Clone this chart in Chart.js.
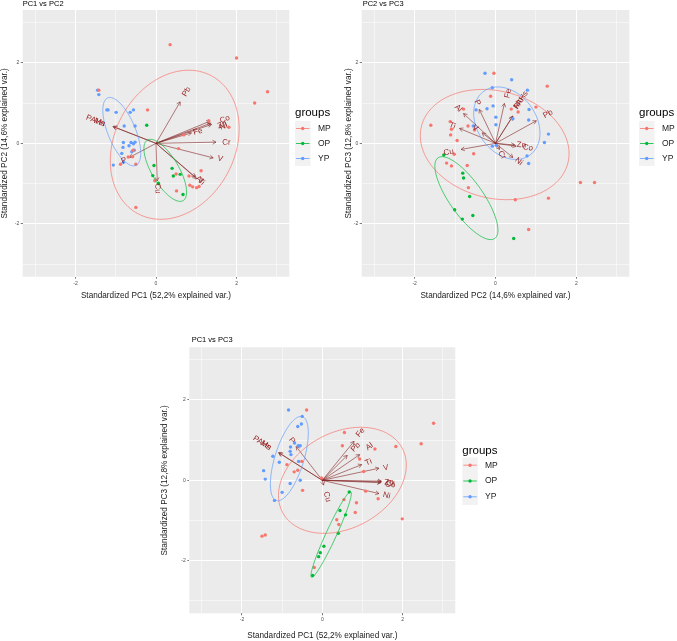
<!DOCTYPE html>
<html>
<head>
<meta charset="utf-8">
<script src="https://cdn.jsdelivr.net/npm/chart.js@4.4.1/dist/chart.umd.min.js"></script>
<style>
  html, body { margin:0; padding:0; background:#ffffff; }
  body { width:677px; height:641px; position:relative; overflow:hidden; }
  canvas { position:absolute; display:block; }
</style>
</head>
<body>
<canvas id="cA" width="340" height="310" style="left:0px;top:0px;width:340px;height:310px"></canvas>
<canvas id="cB" width="337" height="310" style="left:340px;top:0px;width:337px;height:310px"></canvas>
<canvas id="cC" width="360" height="336" style="left:160px;top:305px;width:360px;height:336px"></canvas>
<script>
// ---------------- shared categories / ticks ----------------
const groups = ['MP', 'OP', 'YP'];
const groupColors = ['#F8766D', '#00BA38', '#619CFF'];
const gridValues = [-3, -2, -1, 0, 1, 2, 3];
const gridLabels = ['', '-2', '', '0', '', '2', ''];
const varNames = ['PAHs', 'Mn', 'P', 'Pb', 'Fe', 'Co', 'Zn', 'Ni', 'Cr', 'V', 'Al', 'Ti', 'Cu'];

// ---------------- PC1 vs PC2 ----------------
const pc12_MP = [[0.35,2.45],[2.0,2.12],[2.77,1.28],[2.45,1.0],[-1.42,1.32],[-0.21,0.83],[1.31,0.56],[1.81,0.4],
  [0.69,0.21],[0.56,-0.13],[-0.57,-0.17],[-0.58,-0.33],[-0.69,-0.34],[-0.88,-0.52],[-0.5,-0.52],[-0.03,-0.93],
  [0.51,-1.18],[0.82,-0.81],[1.12,-0.68],[0.84,-1.04],[0.91,-1.08],[1.01,-1.1],[1.07,-1.07],[-0.5,-1.59],[0.5,-0.76]];
const pc12_OP = [[-0.23,0.45],[-0.05,-0.55],[-0.08,-0.8],[0.06,-0.99],[0.4,-0.62],[0.43,-0.81],[0.6,-0.77],[0.67,-1.27]];
const pc12_YP = [[-1.45,1.32],[-1.42,1.21],[-1.22,0.83],[-1.19,0.83],[-0.99,0.77],[-0.64,0.77],[-0.56,0.83],[-0.79,0.43],
  [-0.52,0.43],[-0.81,0.02],[-0.67,-0.06],[-0.62,0.02],[-0.56,-0.01],[-0.52,0.03],[-0.82,-0.1],[-0.6,-0.21],
  [-0.85,-0.25],[-0.81,-0.47],[-1.06,-0.54],[-0.54,-0.17]];
const pc12_tipX = [-1.07,-1.05,-0.66,0.6,0.88,1.34,1.36,1.38,1.49,1.42,0.97,1.0,0.03];
const pc12_tipY = [0.42,0.41,-0.35,1.03,0.26,0.55,0.5,0.47,0.03,-0.36,-0.83,-0.87,-0.93];
const pc12_labX = [-1.5,-1.4,-0.79,0.76,1.04,1.71,1.64,1.68,1.75,1.59,1.08,1.12,0.04];
const pc12_labY = [0.56,0.52,-0.43,1.28,0.29,0.6,0.46,0.42,0.02,-0.38,-0.9,-0.95,-1.12];
const pc12_ellCX = [0.465, 0.23, -0.85];
const pc12_ellCY = [-0.035, -0.67, 0.29];
const pc12_ellA = [1.94, 0.873, 0.908];
const pc12_ellB = [1.49, 0.335, 0.343];
const pc12_ellDeg = [62, -59.4, -67.5];

// ---------------- PC2 vs PC3 ----------------
const pc23_MP = [[-0.04,1.74],[1.28,1.42],[-0.12,1.17],[-0.79,0.85],[0.39,0.85],[0.56,0.78],[1.0,0.9],[-1.6,0.45],
  [-1.12,0.54],[-1.09,0.35],[-1.11,0.21],[-0.95,0.07],[-0.68,0.43],[-0.52,0.33],[-1.02,-0.27],[-0.54,-0.26],
  [-1.21,-0.49],[-1.09,-0.56],[-0.7,-0.55],[-0.67,-1.1],[0.49,-1.4],[1.31,-1.36],[2.1,-0.97],[2.45,-0.97],[0.82,-2.14]];
const pc23_OP = [[-1.28,-0.29],[-0.81,-0.74],[-0.79,-0.86],[-0.64,-1.32],[-1.01,-1.65],[-0.82,-1.88],[-0.56,-1.79],[0.45,-2.36]];
const pc23_YP = [[-0.26,1.74],[0.4,1.58],[-0.08,1.38],[0.79,1.32],[-0.48,0.83],[-0.21,0.86],[-0.06,0.93],[0.01,0.65],
  [0.01,0.46],[0.83,0.84],[0.82,0.58],[0.43,0.61],[1.31,0.23],[1.21,0.02],[-0.08,-0.07],[0.02,-0.05],[-0.55,0.43],
  [0.78,-0.31],[0.82,-0.5]];
const pc23_tipX = [0.43,0.42,-0.4,1.01,0.22,0.51,0.47,0.43,0.1,-0.33,-0.79,-0.89,-0.85];
const pc23_tipY = [0.68,0.66,0.84,0.56,0.99,-0.07,-0.04,-0.35,-0.15,0.26,0.74,0.37,-0.15];
const pc23_labX = [0.63,0.57,-0.45,1.3,0.31,0.8,0.64,0.58,0.16,-0.5,-0.92,-1.07,-1.16];
const pc23_labY = [1.07,1.0,1.01,0.73,1.24,-0.11,-0.04,-0.45,-0.29,0.38,0.87,0.44,-0.22];
const pc23_ellCX = [-0.02, -0.72, 0.28];
const pc23_ellCY = [-0.03, -1.36, 0.5];
const pc23_ellA = [1.868, 1.222, 0.976];
const pc23_ellB = [1.33, 0.418, 0.727];
const pc23_ellDeg = [-14.2, -55, -54.5];

// ---------------- PC1 vs PC3 ----------------
const pc13_MP = [[-0.39,1.75],[0.55,1.19],[0.5,0.86],[1.31,0.78],[1.83,0.84],[2.46,0.91],[2.77,1.42],[0.93,0.53],
  [-0.51,0.47],[-0.88,0.39],[-0.7,0.21],[-0.61,0.25],[-0.49,-0.25],[-0.02,0.06],[1.08,-0.27],[1.39,-0.46],
  [0.54,-0.48],[0.85,-0.56],[0.82,-0.8],[0.36,-0.98],[0.41,-1.1],[1.99,-0.96],[-1.5,-1.39],[-1.42,-1.36],
  [-0.2,-2.17],[1.03,0.22]];
const pc13_OP = [[0.67,-0.29],[0.44,-0.75],[0.58,-0.86],[0.4,-1.32],[0.04,-1.64],[-0.05,-1.8],[-0.09,-1.9],[-0.24,-2.37]];
const pc13_YP = [[-0.84,1.75],[-0.5,1.59],[-0.52,1.4],[-0.61,1.34],[-0.69,0.93],[-0.6,0.86],[-0.55,0.86],[-0.8,0.72],
  [-0.78,0.64],[-1.23,0.6],[-1.07,0.45],[-0.59,0.47],[-1.46,0.24],[-1.42,0.03],[-1.0,-0.3],[-0.8,-0.08],
  [-1.19,-0.5],[-0.55,0.0],[-0.79,0.83]];
const pc13_tipX = [-1.09,-1.07,-0.65,0.62,0.79,1.47,1.47,1.41,1.45,1.41,0.93,0.98,0.03];
const pc13_tipY = [0.69,0.68,0.84,0.62,0.97,-0.04,-0.02,-0.33,-0.06,0.3,0.64,0.39,-0.12];
const pc13_labX = [-1.5,-1.4,-0.76,0.83,0.95,1.69,1.66,1.6,1.7,1.58,1.17,1.15,0.12];
const pc13_labY = [0.93,0.87,0.99,0.82,1.19,-0.11,-0.05,-0.38,-0.08,0.31,0.84,0.45,-0.41];
const pc13_ellCX = [0.5, 0.22, -0.82];
const pc13_ellCY = [0.0, -1.35, 0.54];
const pc13_ellA = [1.69, 1.17, 1.093];
const pc13_ellB = [1.19, 0.13, 0.36];
const pc13_ellDeg = [28.4, 65.3, 72.8];

// ---------------- drawing setup ----------------
Chart.defaults.font.family = '"Liberation Sans", Arial, Helvetica, sans-serif';
Chart.defaults.color = '#4D4D4D';
const FONT = '"Liberation Sans", Arial, Helvetica, sans-serif';

const panels = [
  { id:'cA', title:'PC1 vs PC2',
    xTitle:'Standardized PC1 (52,2% explained var.)', yTitle:'Standardized PC2 (14,6% explained var.)',
    pts:[pc12_MP, pc12_OP, pc12_YP],
    tipX:pc12_tipX, tipY:pc12_tipY, labX:pc12_labX, labY:pc12_labY,
    ell:{cx:pc12_ellCX, cy:pc12_ellCY, a:pc12_ellA, b:pc12_ellB, deg:pc12_ellDeg},
    lay:{padTop:10, padRight:50.7, yW:22.7, xH:33.3, yTitlePad:0.4, xTitlePad:9.9,
         titleX:22.7, titleY:5.5, legX:295, legTitleY:113, keyTop:121, keyY0:128.5, keyStep:15, keyW:15.5, textX:318} },
  { id:'cB', title:'PC2 vs PC3',
    xTitle:'Standardized PC2 (14,6% explained var.)', yTitle:'Standardized PC3 (12,8% explained var.)',
    pts:[pc23_MP, pc23_OP, pc23_YP],
    tipX:pc23_tipX, tipY:pc23_tipY, labX:pc23_labX, labY:pc23_labY,
    ell:{cx:pc23_ellCX, cy:pc23_ellCY, a:pc23_ellA, b:pc23_ellB, deg:pc23_ellDeg},
    lay:{padTop:10, padRight:47.7, yW:21.7, xH:33.3, yTitlePad:4.9, xTitlePad:9.9,
         titleX:22.7, titleY:5.5, legX:299, legTitleY:113, keyTop:121, keyY0:128.5, keyStep:15, keyW:15.5, textX:322} },
  { id:'cC', title:'PC1 vs PC3',
    xTitle:'Standardized PC1 (52,2% explained var.)', yTitle:'Standardized PC3 (12,8% explained var.)',
    pts:[pc13_MP, pc13_OP, pc13_YP],
    tipX:pc13_tipX, tipY:pc13_tipY, labX:pc13_labX, labY:pc13_labY,
    ell:{cx:pc13_ellCX, cy:pc13_ellCY, a:pc13_ellA, b:pc13_ellB, deg:pc13_ellDeg},
    lay:{padTop:42.3, padRight:64.7, yW:29.3, xH:27.7, yTitlePad:0.9, xTitlePad:0.9,
         titleX:31.7, titleY:37.3, legX:302.3, legTitleY:146, keyTop:152.5, keyY0:160.2, keyStep:15.8, keyW:15.5, textX:325} }
];

function isMajor(c) { return c.tick && Math.abs(c.tick.value) % 2 === 0; }

function makeAxis(title, isX, size, titlePad) {
  return {
    type: 'linear', min: -3.31, max: 3.31,
    afterBuildTicks: s => { s.ticks = gridValues.map(v => ({ value: v })); },
    afterFit: s => { if (isX) s.height = size; else s.width = size; },
    border: { display: false },
    grid: {
      color: '#FFFFFF',
      lineWidth: c => isMajor(c) ? 1 : 0.5,
      drawTicks: true, tickLength: 2, tickWidth: 0.7,
      tickColor: c => isMajor(c) ? '#444444' : 'rgba(0,0,0,0)'
    },
    ticks: {
      autoSkip: false, maxRotation: 0, minRotation: 0, padding: 1.5,
      color: '#4D4D4D', font: { size: 5 },
      callback: v => { const i = gridValues.indexOf(v); return i < 0 ? '' : gridLabels[i]; }
    },
    title: {
      display: true, text: title, color: '#1A1A1A', font: { size: 8.2, lineHeight: 1 },
      padding: isX ? { top: 0, bottom: titlePad } : { top: titlePad, bottom: 0 }
    }
  };
}

function biplotPlugin(sp) {
  const L = sp.lay;
  return {
    id: 'biplot_' + sp.id,
    beforeDraw(chart) {
      const { ctx, chartArea: a } = chart;
      ctx.save();
      ctx.fillStyle = '#EBEBEB';
      ctx.fillRect(a.left, a.top, a.right - a.left, a.bottom - a.top);
      ctx.restore();
    },
    beforeDatasetsDraw(chart) {
      const { ctx } = chart; const sx = chart.scales.x, sy = chart.scales.y;
      const x0 = sx.getPixelForValue(0), y0 = sy.getPixelForValue(0);
      ctx.save();
      ctx.strokeStyle = 'rgba(131,36,36,0.75)';
      ctx.lineWidth = 0.8;
      for (let i = 0; i < varNames.length; i++) {
        const x1 = sx.getPixelForValue(sp.tipX[i]), y1 = sy.getPixelForValue(sp.tipY[i]);
        const ang = Math.atan2(y1 - y0, x1 - x0);
        const h = 4, spread = Math.PI / 6;
        ctx.beginPath();
        ctx.moveTo(x0, y0); ctx.lineTo(x1, y1);
        ctx.moveTo(x1 - h * Math.cos(ang - spread), y1 - h * Math.sin(ang - spread));
        ctx.lineTo(x1, y1);
        ctx.lineTo(x1 - h * Math.cos(ang + spread), y1 - h * Math.sin(ang + spread));
        ctx.stroke();
      }
      ctx.restore();
    },
    afterDatasetsDraw(chart) {
      const { ctx } = chart; const sx = chart.scales.x, sy = chart.scales.y;
      ctx.save();
      ctx.lineWidth = 0.7;
      for (let g = 0; g < groups.length; g++) {
        const cx = sp.ell.cx[g], cy = sp.ell.cy[g], a = sp.ell.a[g], b = sp.ell.b[g];
        const th = sp.ell.deg[g] * Math.PI / 180;
        ctx.strokeStyle = groupColors[g];
        ctx.beginPath();
        for (let k = 0; k <= 120; k++) {
          const t = k / 120 * Math.PI * 2;
          const dx = a * Math.cos(t) * Math.cos(th) - b * Math.sin(t) * Math.sin(th);
          const dy = a * Math.cos(t) * Math.sin(th) + b * Math.sin(t) * Math.cos(th);
          const px = sx.getPixelForValue(cx + dx), py = sy.getPixelForValue(cy + dy);
          if (k === 0) ctx.moveTo(px, py); else ctx.lineTo(px, py);
        }
        ctx.stroke();
      }
      ctx.fillStyle = 'rgba(139,0,0,0.85)';
      ctx.font = '8px ' + FONT;
      ctx.textAlign = 'center'; ctx.textBaseline = 'middle';
      for (let i = 0; i < varNames.length; i++) {
        const px = sx.getPixelForValue(sp.labX[i]), py = sy.getPixelForValue(sp.labY[i]);
        const ang = Math.atan(sp.tipY[i] / sp.tipX[i]);
        ctx.save();
        ctx.translate(px, py);
        ctx.rotate(-ang);
        ctx.fillText(varNames[i], 0, 0);
        ctx.restore();
      }
      ctx.restore();
    },
    afterDraw(chart) {
      const { ctx } = chart;
      ctx.save();
      ctx.fillStyle = '#000000';
      ctx.font = '7.5px ' + FONT;
      ctx.textAlign = 'left'; ctx.textBaseline = 'alphabetic';
      ctx.fillText(sp.title, L.titleX, L.titleY);
      ctx.font = '11.5px ' + FONT;
      ctx.textBaseline = 'middle';
      ctx.fillStyle = '#000000';
      ctx.fillText('groups', L.legX, L.legTitleY);
      ctx.fillStyle = '#F2F2F2';
      ctx.fillRect(L.legX, L.keyTop, L.keyW, L.keyStep * groups.length);
      ctx.font = '8.5px ' + FONT;
      for (let g = 0; g < groups.length; g++) {
        const y = L.keyY0 + g * L.keyStep;
        ctx.strokeStyle = groupColors[g]; ctx.lineWidth = 0.8;
        ctx.beginPath(); ctx.moveTo(L.legX + 1, y); ctx.lineTo(L.legX + L.keyW - 1, y); ctx.stroke();
        ctx.fillStyle = groupColors[g];
        ctx.beginPath(); ctx.arc(L.legX + L.keyW / 2, y, 1.7, 0, Math.PI * 2); ctx.fill();
        ctx.fillStyle = '#1A1A1A';
        ctx.fillText(groups[g], L.textX, y);
      }
      ctx.restore();
    }
  };
}

panels.forEach(sp => {
  const L = sp.lay;
  new Chart(document.getElementById(sp.id), {
    type: 'scatter',
    data: {
      datasets: groups.map((g, i) => ({
        label: g,
        data: sp.pts[i].map(p => ({ x: p[0], y: p[1] })),
        backgroundColor: groupColors[i],
        borderColor: groupColors[i],
        borderWidth: 0,
        pointRadius: 1.7,
        pointHoverRadius: 1.7
      }))
    },
    options: {
      responsive: false, animation: false, events: [],
      layout: { padding: { left: 0, top: L.padTop, right: L.padRight, bottom: 0 } },
      plugins: { legend: { display: false }, tooltip: { enabled: false }, title: { display: false } },
      scales: {
        x: makeAxis(sp.xTitle, true, L.xH, L.xTitlePad),
        y: makeAxis(sp.yTitle, false, L.yW, L.yTitlePad)
      }
    },
    plugins: [biplotPlugin(sp)]
  });
});
</script>
</body>
</html>
